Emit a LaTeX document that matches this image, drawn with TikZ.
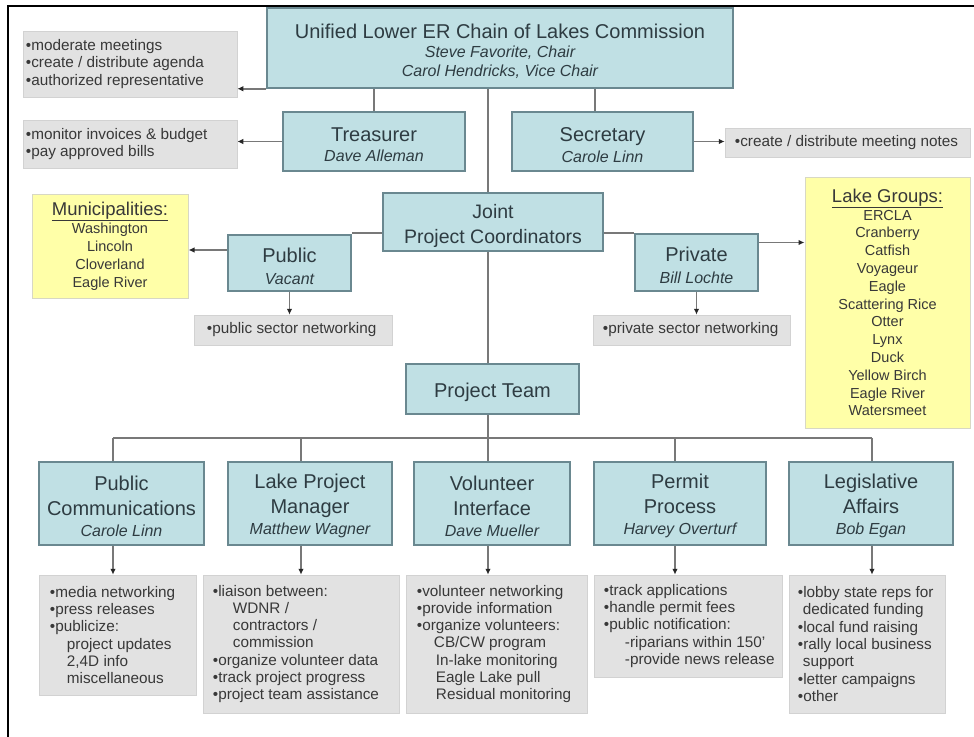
\documentclass[tikz,border=0pt]{standalone}
\usepackage{fontspec}
\setmainfont{Liberation Sans}
\usetikzlibrary{arrows.meta,calc}
\pgfdeclarelayer{bg}
\pgfsetlayers{bg,main}
\definecolor{bluefill}{HTML}{C0E0E4}
\definecolor{blueedge}{HTML}{6A8890}
\definecolor{graybox}{HTML}{E2E2E2}
\definecolor{grayedge}{HTML}{D2D2D2}
\definecolor{yellowbox}{HTML}{FFFFA8}
\definecolor{yellowedge}{HTML}{D8D8C4}
\definecolor{linegray}{HTML}{787878}
\definecolor{txtdark}{HTML}{2E3C42}
\definecolor{txtgray}{HTML}{383838}
\newcommand\bxtitle[1]{{\fontsize{20}{24}\selectfont #1}}
\newcommand\bxname[1]{{\fontsize{16}{19}\selectfont\itshape #1}}
\newcommand\ind[1]{\hspace*{#1pt}}
\newcommand\upst[1]{\rule{0pt}{#1pt}}
\begin{document}
\begin{tikzpicture}[x=1pt,y=-1pt,
  bluebox/.style={draw=blueedge, fill=bluefill, line width=1.5pt, inner sep=0pt, align=center, text=txtdark, font=\fontsize{16}{19}\selectfont},
  lowbox/.style={bluebox, minimum width=#1, minimum height=83, font=\fontsize{20}{25}\selectfont},
  grbox/.style={fill=graybox, draw=grayedge, line width=0.5pt, inner sep=0pt},
  grtext/.style={anchor=west, align=left, inner sep=0pt, text=txtgray, font=\fontsize{15.3}{17.3}\selectfont},
  ybox/.style={fill=yellowbox, draw=yellowedge, line width=1pt, inner sep=0pt, align=center, text=txtgray, font=\fontsize{14.5}{17.8}\selectfont},
  conn/.style={draw=linegray, line width=1.5pt},
  arr/.style={conn, -{Latex[length=6pt,width=5.5pt,color=black!85]}}
]
\useasboundingbox (0,0) rectangle (974,736);
\draw[line width=2.5pt] (8,737) -- (8,6) -- (975,6);

% top level
\node[bluebox, minimum width=466, minimum height=80] (top) at (500,48)
  {\upst{21}\bxtitle{Unified Lower ER Chain of Lakes Commission}\\ \bxname{Steve Favorite, Chair}\\ \bxname{Carol Hendricks, Vice Chair}};
\node[grbox, minimum width=214, minimum height=66] (g1) at (130,64) {};
\node[grtext] (g1t) at ([xshift=3pt]g1.west) {•moderate meetings\\•create / distribute agenda\\•authorized representative};

\node[bluebox, minimum width=182, minimum height=59] (treas) at (374,141.5)
  {\upst{20.5}\bxtitle{Treasurer}\\[1pt] \bxname{Dave Alleman}};
\node[grbox, minimum width=214, minimum height=48] (g2) at (130,144) {};
\node[grtext] (g2t) at ([xshift=3pt]g2.west) {•monitor invoices \& budget\\•pay approved bills};

\node[bluebox, minimum width=181, minimum height=59] (sec) at (602.5,141.5)
  {\upst{20.5}\bxtitle{Secretary}\\[2pt] \bxname{Carole Linn}};
\node[grbox, minimum width=245, minimum height=29] (g3) at (847.5,142.5) {};
\node[grtext] (g3t) at ([xshift=10pt]g3.west) {•create / distribute meeting notes};

% coordinators
\node[bluebox, minimum width=220, minimum height=58, font=\fontsize{19.5}{25}\selectfont] (joint) at (493,222)
  {\upst{22}Joint\\Project Coordinators};
\node[bluebox, minimum width=123, minimum height=56] (pub) at (289.5,263)
  {\upst{20.5}\bxtitle{Public}\\[3pt] \bxname{Vacant}};
\node[bluebox, minimum width=123, minimum height=57] (priv) at (696.5,262.5)
  {\upst{20.5}\bxtitle{Private}\\[3pt] \bxname{Bill Lochte}};
\node[grbox, minimum width=198, minimum height=30] (g4) at (293,330) {};
\node[grtext] (g4t) at ([xshift=13pt]g4.west) {•public sector networking};
\node[grbox, minimum width=197, minimum height=30] (g5) at (691.5,330) {};
\node[grtext] (g5t) at ([xshift=10pt]g5.west) {•private sector networking};

\node[ybox, minimum width=156, minimum height=104] (muni) at (110,246)
  {{\fontsize{18.5}{20}\selectfont\underline{Municipalities:}}\\[1pt]Washington\\Lincoln\\Cloverland\\Eagle River};
\node[ybox, minimum width=165, minimum height=251] (lake) at (887.5,302.5)
  {{\fontsize{18.5}{20}\selectfont\underline{Lake Groups:}}\\ERCLA\\Cranberry\\Catfish\\Voyageur\\Eagle\\Scattering Rice\\Otter\\Lynx\\Duck\\Yellow Birch\\Eagle River\\Watersmeet};

\node[bluebox, minimum width=173, minimum height=50, font=\fontsize{20}{24}\selectfont] (team) at (492.5,389) {\upst{20.5}Project Team};

% project team members
\node[lowbox=165] (pc) at (121.5,503.5) {\upst{19.6}Public\\Communications\\[-4pt]\bxname{Carole Linn}};
\node[lowbox=164] (lpm) at (310,503.5) {\upst{19.6}Lake Project\\Manager\\[-4pt]\bxname{Matthew Wagner}};
\node[lowbox=156] (vi) at (492,503.5) {\upst{19.6}Volunteer\\Interface\\[-4pt]\bxname{Dave Mueller}};
\node[lowbox=172] (pp) at (680,503.5) {\upst{19.6}Permit\\Process\\[-4pt]\bxname{Harvey Overturf}};
\node[lowbox=164] (la) at (871,503.5) {\upst{19.6}Legislative\\Affairs\\[-4pt]\bxname{Bob Egan}};

\node[grbox, minimum width=157, minimum height=120] (pcg) at (117.5,635) {};
\node[grtext] (pcgt) at ([xshift=11pt]pcg.west) {•media networking\\•press releases\\•publicize:\\\ind{17}project updates\\\ind{17}2,4D info\\\ind{17}miscellaneous};
\node[grbox, minimum width=196, minimum height=138] (lpmg) at (301,644) {};
\node[grtext] (lpmgt) at ([xshift=10pt]lpmg.west) {•liaison between:\\\ind{20}WDNR /\\\ind{20}contractors /\\\ind{20}commission\\•organize volunteer data\\•track project progress\\•project team assistance};
\node[grbox, minimum width=181, minimum height=138] (vig) at (496.5,644) {};
\node[grtext] (vigt) at ([xshift=11pt]vig.west) {•volunteer networking\\•provide information\\•organize volunteers:\\\ind{17}CB/CW program\\\ind{19}In-lake monitoring\\\ind{19}Eagle Lake pull\\\ind{19}Residual monitoring};
\node[grbox, minimum width=188, minimum height=102] (ppg) at (688,626) {};
\node[grtext] (ppgt) at ([xshift=10pt]ppg.west) {•track applications\\•handle permit fees\\•public notification:\\\ind{21}-riparians within 150'\\\ind{21}-provide news release};
\node[grbox, minimum width=156, minimum height=138] (lag) at (867,644) {};
\node[grtext] (lagt) at ([xshift=9pt]lag.west) {•lobby state reps for\\\ind{5}dedicated funding\\•local fund raising\\•rally local business\\\ind{5}support\\•letter campaigns\\•other};

% connectors
\begin{pgfonlayer}{bg}
\coordinate (tx) at (488,438);
\coordinate (sx) at (595,100);
\coordinate (b1) at (113,438);
\coordinate (b2) at (301,438);
\coordinate (b4) at (675,438);
\coordinate (b5) at (872,438);
\draw[conn] (top.south -| tx) -- (tx);
\draw[arr] (top.south west) -- (top.south west -| g1.east);
\draw[conn] (top.south -| treas.north) -- (treas.north);
\draw[arr] (treas.west) -- (treas.west -| g2.east);
\draw[conn] (top.south -| sx) -- (sec.north -| sx);
\draw[arr] (sec.east) -- (sec.east -| g3.west);
\draw[conn] ([yshift=-11pt]joint.west) -- ([yshift=-11pt]joint.west -| pub.east);
\draw[arr] ([yshift=13pt]pub.west) -- ([yshift=13pt]pub.west -| muni.east);
\draw[arr] (pub.south) -- (pub.south |- g4.north);
\draw[conn] ([yshift=-11pt]joint.east) -- ([yshift=-11pt]joint.east -| priv.west);
\draw[arr] ([yshift=20pt]priv.east) -- ([yshift=20pt]priv.east -| lake.west);
\draw[arr] (priv.south) -- (priv.south |- g5.north);
\draw[conn] (b1) -- (b5);
\draw[conn] (b1) -- (b1 |- pc.north);
\draw[conn] (b2) -- (b2 |- lpm.north);
\draw[conn] (tx) -- (tx |- vi.north);
\draw[conn] (b4) -- (b4 |- pp.north);
\draw[conn] (b5) -- (b5 |- la.north);
\draw[arr] (b1 |- pc.south) -- (b1 |- pcg.north);
\draw[arr] (b2 |- lpm.south) -- (b2 |- lpmg.north);
\draw[arr] (tx |- vi.south) -- (tx |- vig.north);
\draw[arr] (b4 |- pp.south) -- (b4 |- ppg.north);
\draw[arr] (b5 |- la.south) -- (b5 |- lag.north);
\end{pgfonlayer}
\end{tikzpicture}
\end{document}
